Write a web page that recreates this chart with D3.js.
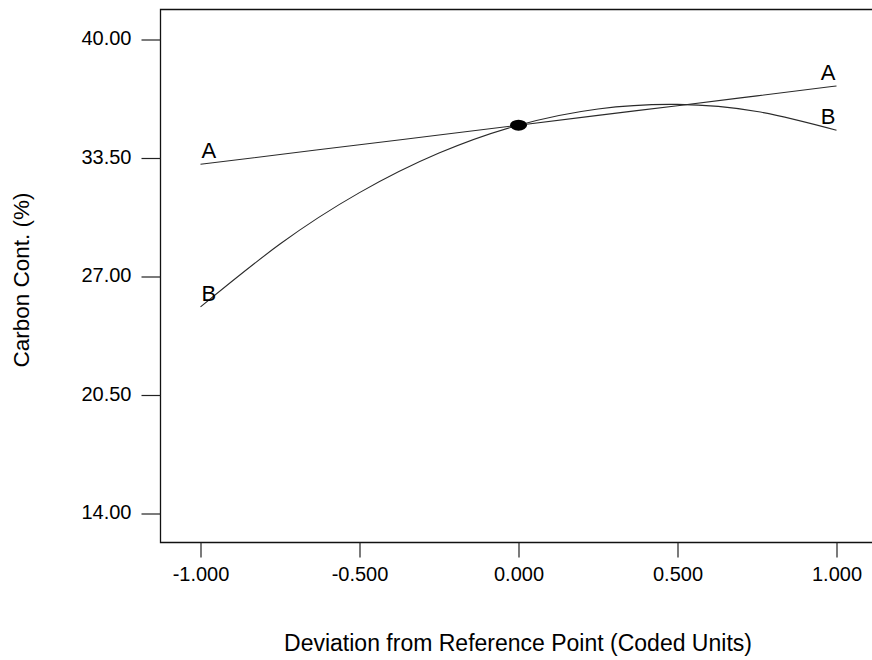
<!DOCTYPE html>
<html>
<head>
<meta charset="utf-8">
<script src="https://cdn.jsdelivr.net/npm/d3@7"></script>
<style>
  html, body { margin: 0; padding: 0; background: #fff; }
  svg { display: block; font-family: Arial, "Liberation Sans", sans-serif; }
</style>
</head>
<body>
<svg id="chart" width="872" height="660"></svg>
<script>
// Deviation from the reference point (coded units)
const deviation = [-1, -0.75, -0.5, -0.25, 0, 0.25, 0.5, 0.75, 1];
// Carbon content (%) traced along factor A and factor B
const factorA = [33.16, 33.69, 34.23, 34.76, 35.30, 35.84, 36.37, 36.91, 37.45];
const factorB = [25.33, 28.78, 31.60, 33.77, 35.30, 36.19, 36.44, 36.05, 35.02];
const seriesNames = ["A", "B"];
// Reference point
const refPoint = [0, 35.30];
// Axis ticks
const xTicks = [-1, -0.5, 0, 0.5, 1];
const yTicks = [14.0, 20.5, 27.0, 33.5, 40.0];

const svg = d3.select("#chart");

const frame = { left: 160.5, top: 9.5, bottom: 542.5, right: 900 };

const x = d3.scaleLinear().domain([-1, 1]).range([200.5, 836.5]);
const y = d3.scaleLinear().domain([14, 40]).range([513.5, 39.5]);

// Plain hyphen-minus formatting for tick labels
const fmt = spec => {
  const f = d3.format(spec);
  return d => f(d).replace("\u2212", "-");
};

// Plot frame (right side runs past the page edge)
svg.append("path")
  .attr("d", `M${frame.right},${frame.top}H${frame.left}V${frame.bottom}H${frame.right}`)
  .attr("fill", "none")
  .attr("stroke", "#111")
  .attr("stroke-width", 1.3);

// Y axis
const yAxis = d3.axisLeft(y)
  .tickValues(yTicks)
  .tickFormat(fmt(".2f"))
  .tickSize(19)
  .tickPadding(10);
const gy = svg.append("g").attr("transform", `translate(${frame.left},0)`).call(yAxis);
gy.select(".domain").remove();
gy.selectAll(".tick line").attr("stroke", "#222").attr("stroke-width", 1.2);
gy.selectAll(".tick text")
  .attr("font-size", 20)
  .attr("font-family", "Arial, 'Liberation Sans', sans-serif")
  .attr("fill", "#000")
  .attr("dy", "0.25em");

// X axis
const xAxis = d3.axisBottom(x)
  .tickValues(xTicks)
  .tickFormat(fmt(".3f"))
  .tickSize(15)
  .tickPadding(9);
const gx = svg.append("g").attr("transform", `translate(0,${frame.bottom})`).call(xAxis);
gx.select(".domain").remove();
gx.selectAll(".tick line").attr("stroke", "#222").attr("stroke-width", 1.2);
gx.selectAll(".tick text")
  .attr("font-size", 20)
  .attr("font-family", "Arial, 'Liberation Sans', sans-serif")
  .attr("fill", "#000");

// Axis titles
svg.append("text")
  .attr("transform", "translate(28.5,280) rotate(-90)")
  .attr("text-anchor", "middle")
  .attr("font-size", 22.5)
  .attr("fill", "#000")
  .text("Carbon Cont. (%)");

svg.append("text")
  .attr("x", 518)
  .attr("y", 651)
  .attr("text-anchor", "middle")
  .attr("font-size", 23)
  .attr("fill", "#000")
  .text("Deviation from Reference Point (Coded Units)");

// Perturbation traces
const series = [factorA, factorB].map((vals, i) => ({
  name: seriesNames[i],
  points: deviation.map((d, j) => [d, vals[j]])
}));

const line = d3.line()
  .x(d => x(d[0]))
  .y(d => y(d[1]))
  .curve(d3.curveNatural);

svg.append("g").selectAll("path")
  .data(series)
  .join("path")
  .attr("d", d => line(d.points))
  .attr("fill", "none")
  .attr("stroke", "#2a2a2a")
  .attr("stroke-width", 1.1);

// Series letters at both ends of each trace
const labels = [];
series.forEach(s => {
  labels.push({ name: s.name, p: s.points[0], anchor: "start" });
  labels.push({ name: s.name, p: s.points[s.points.length - 1], anchor: "end" });
});
svg.append("g").selectAll("text")
  .data(labels)
  .join("text")
  .attr("x", d => x(d.p[0]) + (d.anchor === "start" ? 1 : -1))
  .attr("y", d => y(d.p[1]) - 6)
  .attr("text-anchor", d => d.anchor)
  .attr("font-size", 22)
  .attr("fill", "#000")
  .text(d => d.name);

// Reference point marker
svg.append("ellipse")
  .attr("cx", x(refPoint[0]))
  .attr("cy", y(refPoint[1]))
  .attr("rx", 8.5)
  .attr("ry", 5.5)
  .attr("fill", "#000");
</script>
</body>
</html>
